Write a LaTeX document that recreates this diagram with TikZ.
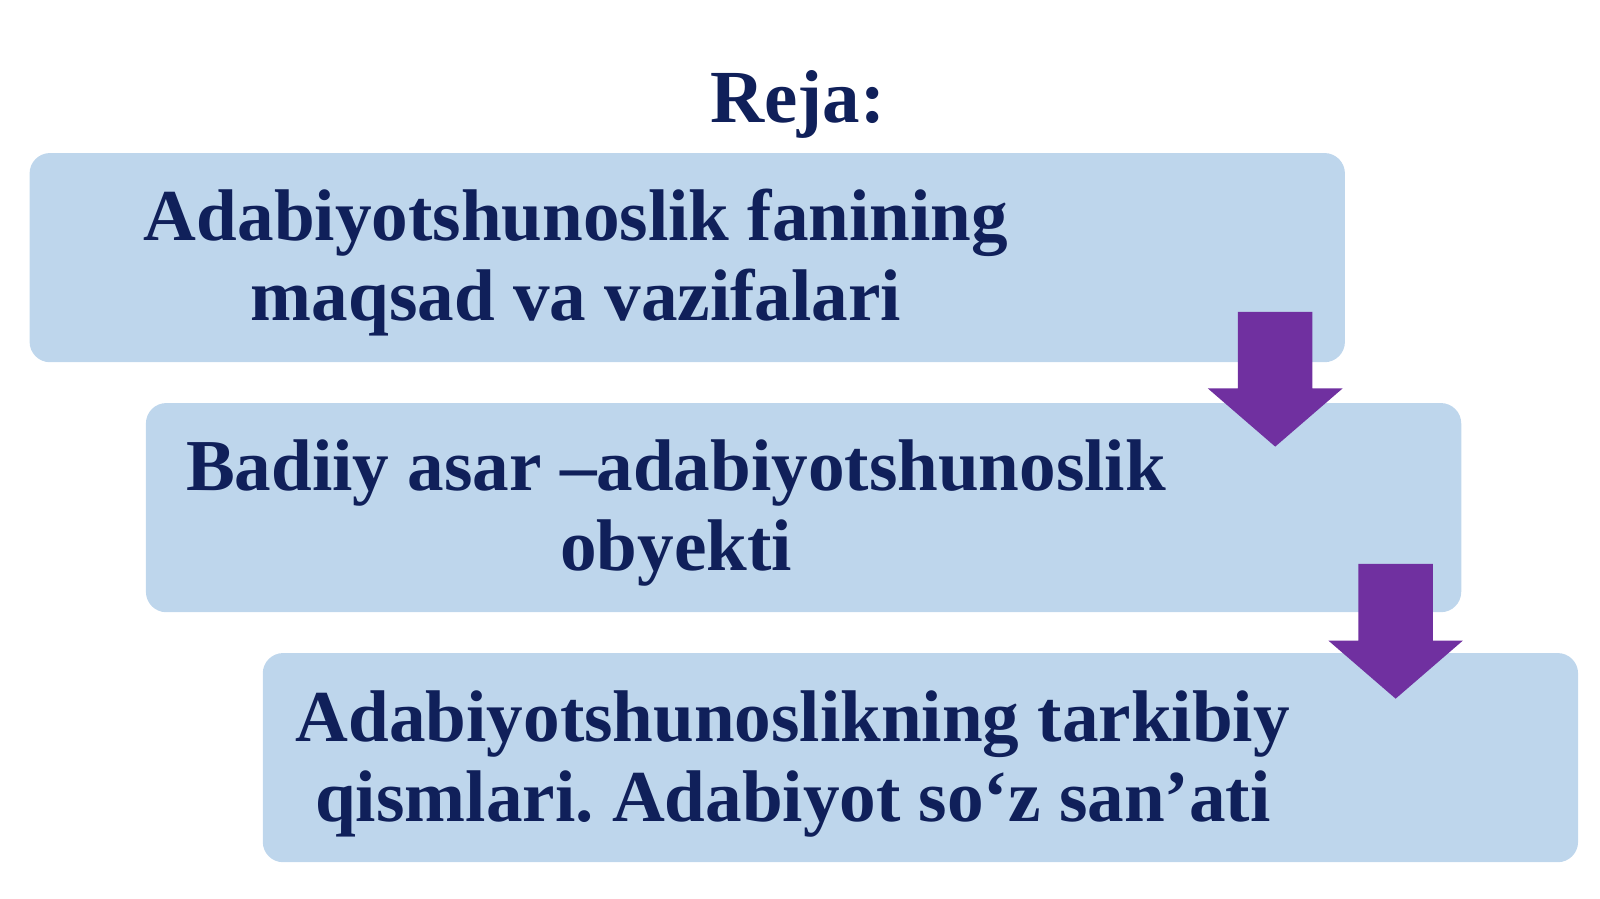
\documentclass[tikz,border=0pt]{standalone}
\usepackage{fontspec}
\setmainfont{Liberation Serif}
\usetikzlibrary{calc}
\frenchspacing

\definecolor{rejanavy}{RGB}{16,32,90}
\definecolor{rejabox}{RGB}{190,214,236}
\definecolor{rejapurple}{RGB}{112,48,160}

\tikzset{
    planbox/.style = {fill = rejabox, rounded corners = 0.2cm,
        minimum width = 12.89cm, minimum height = 2.05cm},
    plantext/.style = {text = rejanavy, align = center,
        font = \fontsize{20.4}{22.4}\selectfont\bfseries},
    planarrow/.style = {fill = rejapurple}
}

\begin{document}
\begin{tikzpicture}
        \useasboundingbox (0, 0) rectangle (15.68, 8.81);
        \node[plantext, font = \fontsize{20.9}{24}\selectfont\bfseries]
            at (7.82, 7.79) (title) {Reja:};
        \node[planbox] at (6.735, 6.285) (aim) {};
        \node[planbox] at (7.875, 3.835) (object) {};
        \node[planbox] at (9.02, 1.385) (parts) {};
        \node[plantext] at ($ (aim) + (-1.09, -0.05) $) (aim_text)
            {Adabiyotshunoslik fanining\\maqsad va vazifalari};
        \node[plantext] at ($ (object) + (-1.25, -0.05) $) (object_text)
            {Badiiy asar –adabiyotshunoslik\\obyekti};
        \node[plantext] at ($ (parts) + (-1.25, -0.06) $) (parts_text)
            {Adabiyotshunoslikning tarkibiy\\qismlari. Adabiyot so‘z san’ati};
        \coordinate (first_top) at ($ (aim.south east) + (-0.69, 0.5) $);
        \coordinate (second_top) at ($ (object.south east) + (-0.65, 0.48) $);
        \foreach \arrowtop in {first_top, second_top}
            \fill[planarrow] (\arrowtop) ++(-0.365, 0) -- ++(0.73, 0)
                -- ++(0, -0.75) -- ++(0.295, 0) -- ++(-0.66, -0.57)
                -- ++(-0.66, 0.57) -- ++(0.295, 0) -- cycle;
    \end{tikzpicture}
\end{document}
